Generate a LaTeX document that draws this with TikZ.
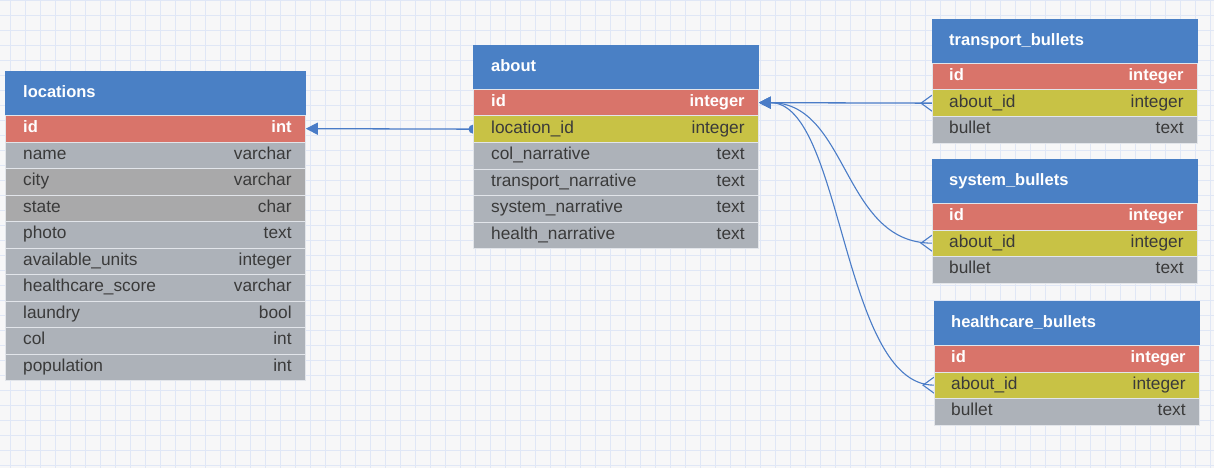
\documentclass[tikz,border=0pt]{standalone}
\usepackage{fontspec}
\setmainfont{Liberation Sans}
\usetikzlibrary{arrows.meta}

\definecolor{bgcol}{HTML}{F7F7F8}
\definecolor{gridcol}{HTML}{E0E7F6}
\definecolor{hdblue}{HTML}{4A80C5}
\definecolor{pkred}{HTML}{D9746A}
\definecolor{fkyellow}{HTML}{C8C245}
\definecolor{rowgray}{HTML}{ADB2B9}
\definecolor{rowdark}{HTML}{A9A9AA}
\definecolor{rowline}{HTML}{E2E5EA}
\definecolor{txtdark}{HTML}{3A3A3A}
\definecolor{linkblue}{HTML}{4A7CC7}

\pgfdeclarelayer{grid}
\pgfdeclarelayer{links}
\pgfsetlayers{grid,links,main}

\tikzset{
  tblhead/.style={anchor=north west, fill=hdblue, draw=hdblue, minimum height=44pt, inner sep=0pt},
  tblrow/.style={anchor=north west, draw=rowline, line width=0.8pt, minimum height=26.5pt, inner sep=0pt},
  headtxt/.style={anchor=west, text=white, font=\fontsize{16.5}{18}\selectfont\bfseries,
    inner sep=0pt, text height=12pt, text depth=3.5pt},
  pktxt/.style={text=white, font=\fontsize{16.5}{18}\selectfont\bfseries, inner sep=0pt,
    text height=12pt, text depth=3.5pt},
  coltxt/.style={text=txtdark, font=\fontsize{17.3}{19}\selectfont, inner sep=0pt,
    text height=12pt, text depth=3.5pt},
  link/.style={draw=linkblue, line width=1.3pt},
}

\begin{document}
\begin{tikzpicture}[x=1pt, y=-1pt]
\useasboundingbox (0,0) rectangle (1214,468);

% background grid
\begin{pgfonlayer}{grid}
  \fill[bgcol] (0,0) rectangle (1214,468);
  \draw[gridcol, line width=0.7pt, shift={(10,0)}] (-10,0) grid[step=15pt] (1204,468);
\end{pgfonlayer}

% locations
\node[tblhead, minimum width=300pt] (loc-head) at (5,71) {};
\node[headtxt] at ([xshift=18pt]loc-head.west) {locations};
\foreach \f/\t/\c/\s [count=\i from 0] in {id/int/pkred/pktxt, name/varchar/rowgray/coltxt,
    city/varchar/rowdark/coltxt, state/char/rowdark/coltxt, photo/text/rowgray/coltxt,
    available\_units/integer/rowgray/coltxt, healthcare\_score/varchar/rowgray/coltxt,
    laundry/bool/rowgray/coltxt, col/int/rowgray/coltxt, population/int/rowgray/coltxt}
{
  \node[tblrow, fill=\c, minimum width=300pt] (loc-\i) at (5,{115+26.5*\i}) {};
  \node[\s, anchor=west] at ([xshift=18pt]loc-\i.west) {\f};
  \node[\s, anchor=east] at ([xshift=-14pt]loc-\i.east) {\t};
}

% about
\node[tblhead, minimum width=285pt] (about-head) at (473,45) {};
\node[headtxt] at ([xshift=18pt]about-head.west) {about};
\foreach \f/\t/\c/\s [count=\i from 0] in {id/integer/pkred/pktxt, location\_id/integer/fkyellow/coltxt,
    col\_narrative/text/rowgray/coltxt, transport\_narrative/text/rowgray/coltxt,
    system\_narrative/text/rowgray/coltxt, health\_narrative/text/rowgray/coltxt}
{
  \node[tblrow, fill=\c, minimum width=285pt] (about-\i) at (473,{89+26.5*\i}) {};
  \node[\s, anchor=west] at ([xshift=18pt]about-\i.west) {\f};
  \node[\s, anchor=east] at ([xshift=-14pt]about-\i.east) {\t};
}

% bullet tables
\foreach \tb/\x/\y/\name in {tb/932/19/transport\_bullets, sb/932/159/system\_bullets, hb/934/301/healthcare\_bullets}
{
  \node[tblhead, minimum width=265pt] (\tb-head) at (\x,\y) {};
  \node[headtxt] at ([xshift=17pt]\tb-head.west) {\name};
  \foreach \f/\t/\c/\s [count=\i from 0] in {id/integer/pkred/pktxt, about\_id/integer/fkyellow/coltxt, bullet/text/rowgray/coltxt}
  {
    \node[tblrow, fill=\c, minimum width=265pt] (\tb-\i) at (\x,{\y+44+26.5*\i}) {};
    \node[\s, anchor=west] at ([xshift=17pt]\tb-\i.west) {\f};
    \node[\s, anchor=east] at ([xshift=-14pt]\tb-\i.east) {\t};
  }
}

% relations
\begin{pgfonlayer}{links}
  \draw[link, -{Triangle[length=12pt, width=12pt]}] (about-1.west) -- (loc-0.east);
  \fill[linkblue] (about-1.west) circle[radius=4.5pt];
  \draw[link, -{Triangle[length=12pt, width=12pt]}] (tb-1.west) -- (about-0.east);
  \draw[link, line width=1.1pt, -{Triangle[length=12pt, width=12pt]}] (sb-1.west) .. controls +(-90,0) and +(90,0) .. (about-0.east);
  \draw[link, line width=1.1pt, -{Triangle[length=12pt, width=12pt]}] (hb-1.west) .. controls +(-92,0) and +(84,0) .. (about-0.east);
  \foreach \n in {tb-1, sb-1, hb-1}
    \draw[link, line width=1.1pt] ([yshift=8pt]\n.west) -- ([xshift=-11pt]\n.west) -- ([yshift=-8pt]\n.west);
\end{pgfonlayer}
\end{tikzpicture}
\end{document}
